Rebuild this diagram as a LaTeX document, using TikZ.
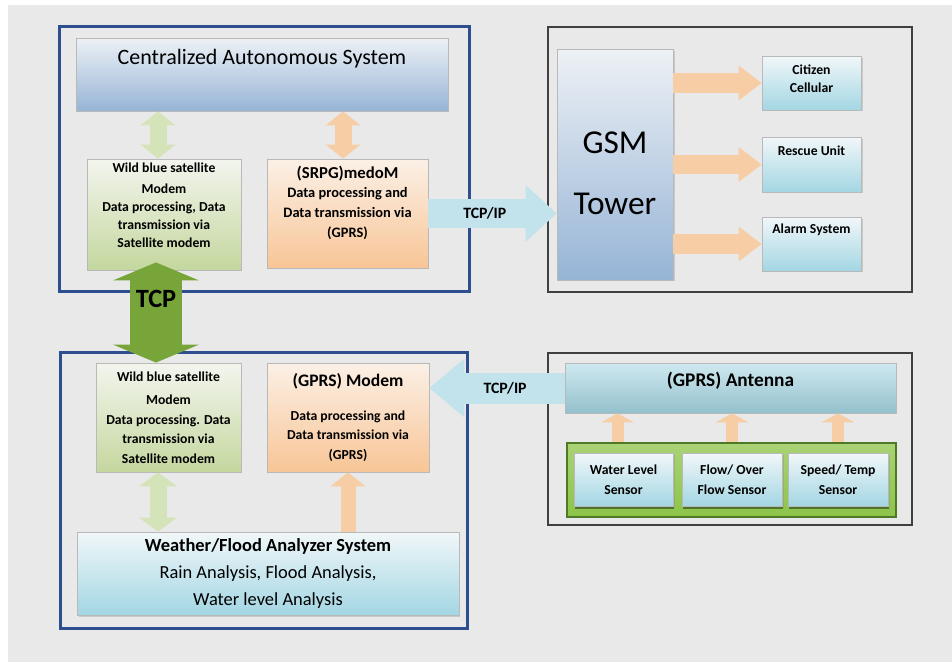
\documentclass[tikz,border=0pt]{standalone}
\usepackage{fontspec}
\setmainfont{Carlito}
\usepackage{xcolor}
\usetikzlibrary{arrows.meta,positioning,calc,shadows}

\definecolor{frameblue}{HTML}{2E4F8F}
\definecolor{bggray}{HTML}{E9E9E9}
\definecolor{skytop}{HTML}{EDF1F5}
\definecolor{skybot}{HTML}{96B4D6}
\definecolor{leaftop}{HTML}{F3F5EE}
\definecolor{leafbot}{HTML}{C4D79E}
\definecolor{peachtop}{HTML}{FBF0E6}
\definecolor{peachbot}{HTML}{F8C596}
\definecolor{aquatop}{HTML}{F1F7F9}
\definecolor{aquabot}{HTML}{A3D6E3}
\definecolor{tcpgreen}{HTML}{77A53A}
\definecolor{lightleaf}{HTML}{D5E3B8}
\definecolor{lightpeach}{HTML}{F6CDA4}
\definecolor{lightaqua}{HTML}{C3E3EC}
\definecolor{bargreen}{HTML}{8DC449}
\definecolor{baredge}{HTML}{4E7A26}

\begin{document}
\begin{tikzpicture}[
    x=0.02cm, y=-0.02cm,
    frame/.style={draw=frameblue, line width=1.7pt},
    panel/.style={draw=black!75, line width=0.8pt},
    block/.style={draw=gray!55, line width=0.5pt, align=center, inner sep=0pt,
      drop shadow={opacity=0.3, shadow xshift=0.03cm, shadow yshift=-0.03cm}},
    sky/.style={block, top color=skytop, bottom color=skybot},
    leaf/.style={block, top color=leaftop, bottom color=leafbot},
    peach/.style={block, top color=peachtop, bottom color=peachbot},
    aqua/.style={block, top color=aquatop, bottom color=aquabot},
    sensor/.style={aqua, drop shadow={opacity=0.7, fill=baredge!70!black, shadow xshift=0.02cm, shadow yshift=-0.05cm}},
    toptext/.style={anchor=north, inner sep=0pt, align=center},
    small/.style={font=\fontsize{7.8}{10.2}\selectfont\bfseries},
    onearr/.style n args={4}{line width=#1, draw=#4, -{Triangle[width=#2, length=#3, line width=0pt]}},
    twoarr/.style n args={4}{line width=#1, draw=#4, {Triangle[width=#2, length=#3, line width=0pt]}-{Triangle[width=#2, length=#3, line width=0pt]}}
  ]
    \useasboundingbox (0,0) rectangle (952,662);
    \fill[white] (0,0) rectangle (952,662);
    \fill[bggray] (8,5) rectangle (952,662);

    % outer frames
    \node[frame, minimum width=8.22cm, minimum height=5.32cm] (topsys) at (264.5,159) {};
    \node[frame, minimum width=8.16cm, minimum height=5.54cm] (botsys) at (264,490.5) {};
    \node[panel, minimum width=7.28cm, minimum height=5.3cm]  (gsmsys) at (730,159.5) {};
    \node[panel, minimum width=7.28cm, minimum height=3.44cm] (sensys) at (730,439) {};

    % central side
    \node[sky, minimum width=7.44cm, minimum height=1.46cm,
      label={[toptext, font=\fontsize{12.5}{14}\selectfont, yshift=-0.22cm]north:Centralized Autonomous System}] (cas) at (262,74.5) {};
    \node[leaf, minimum width=3.08cm, minimum height=2.22cm,
      label={[toptext, small, yshift=-0.08cm]north:Wild blue satellite\\[2pt]Modem\\Data processing, Data\\transmission via\\Satellite modem}] (sat1) at (164,214.5) {};
    \node[peach, minimum width=3.22cm, minimum height=2.18cm,
      label={[toptext, font=\fontsize{8.2}{11.2}\selectfont\bfseries, yshift=-0.14cm]north:{\fontsize{9.5}{11}\selectfont (SRPG)medoM}\\Data processing and\\Data transmission via\\(GPRS)}] (gprs1) at (347.5,213.5) {};

    % gsm side
    \node[sky, minimum width=2.32cm, minimum height=4.62cm,
      label={[toptext, font=\fontsize{19}{34.6}\selectfont, yshift=-1.66cm]north:GSM\\Tower}] (gsm) at (615,164.5) {};
    \node[aqua, minimum width=1.98cm, minimum height=1.08cm,
      label={[toptext, small, yshift=-0.18cm]north:Citizen\\Cellular}] (cell) at (811.5,83) {};
    \node[aqua, minimum width=1.98cm, minimum height=1.1cm,
      label={[toptext, small, yshift=-0.18cm]north:Rescue Unit}] (rescue) at (811.5,164.5) {};
    \node[aqua, minimum width=1.98cm, minimum height=1.08cm,
      label={[toptext, small, yshift=-0.14cm]north:Alarm System}] (alarm) at (811.5,244) {};

    % field side
    \node[leaf, minimum width=2.9cm, minimum height=2.18cm, small] (sat2) at (168.5,417.5)
      {Wild blue satellite\\[3pt]Modem\\[1pt]Data processing. Data\\[1pt]transmission via\\[1pt]Satellite modem};
    \node[peach, minimum width=3.24cm, minimum height=2.18cm, small] (gprs2) at (348,417.5)
      {{\fontsize{10}{12}\selectfont (GPRS) Modem}\\[9pt]Data processing and\\[1pt]Data transmission via\\[1pt](GPRS)};
    \node[aqua, minimum width=7.64cm, minimum height=1.66cm, font=\fontsize{10.5}{15.3}\selectfont] (wfa) at (268,573.5)
      {\textbf{Weather/Flood Analyzer System}\\Rain Analysis, Flood Analysis,\\Water level Analysis};

    % sensor side
    \node[block, top color=lightaqua!80!white, bottom color=aquabot!90!black, minimum width=6.62cm, minimum height=1cm,
      label={[toptext, font=\fontsize{11}{13}\selectfont\bfseries, yshift=-0.18cm]north:(GPRS) Antenna}] (ant) at (730.5,388) {};
    \node[draw=baredge, line width=1pt, top color=bargreen!75!white, bottom color=bargreen, minimum width=6.58cm, minimum height=1.48cm] (bar) at (731.5,480) {};
    \node[sensor, minimum width=1.98cm, minimum height=1.06cm, small] (wls) at (623.5,479.5) {Water Level\\[1pt]Sensor};
    \node[sensor, minimum width=2cm, minimum height=1.06cm, small] (fls) at (732,479.5) {Flow/ Over\\[1pt]Flow Sensor};
    \node[sensor, minimum width=2cm, minimum height=1.06cm, small] (sts) at (838,479.5) {Speed/ Temp\\[1pt]Sensor};

    % connectors
    \draw[twoarr={0.34cm}{0.7cm}{0.28cm}{lightleaf}] ([xshift=-0.12cm]sat1.north) -- ([xshift=-0.12cm]sat1.north |- cas.south);
    \draw[twoarr={0.34cm}{0.7cm}{0.28cm}{lightpeach}] ([xshift=-0.09cm]gprs1.north) -- ([xshift=-0.09cm]gprs1.north |- cas.south);
    \draw[onearr={0.6cm}{1.14cm}{0.62cm}{lightaqua}] (gprs1.east) -- (gprs1.east -| gsm.west)
      node[pos=0.44, font=\fontsize{9}{11}\selectfont\bfseries] (tcpa) {TCP/IP};
    \draw[onearr={0.4cm}{0.7cm}{0.46cm}{lightpeach}] (gsm.east |- cell.west) -- (cell.west);
    \draw[onearr={0.4cm}{0.7cm}{0.46cm}{lightpeach}] (gsm.east |- rescue.west) -- (rescue.west);
    \draw[onearr={0.4cm}{0.7cm}{0.46cm}{lightpeach}] (gsm.east |- alarm.west) -- (alarm.west);
    \draw[twoarr={1.04cm}{1.72cm}{0.36cm}{tcpgreen}] ([xshift=-0.16cm, yshift=0.16cm]sat1.south) -- ([xshift=-0.16cm]sat1.south |- sat2.north)
      node[pos=0.36, font=\fontsize{15}{17}\selectfont\bfseries] (tcp) {TCP};
    \draw[twoarr={0.34cm}{0.76cm}{0.28cm}{lightleaf}] ([xshift=-0.21cm]sat2.south) -- ([xshift=-0.21cm]sat2.south |- wfa.north);
    \draw[onearr={0.3cm}{0.7cm}{0.28cm}{lightpeach}] (gprs2.south |- wfa.north) -- (gprs2.south);
    \draw[onearr={0.62cm}{1.18cm}{0.7cm}{lightaqua}] (ant.west) -- (ant.west -| gprs2.east)
      node[pos=0.44, font=\fontsize{9}{11}\selectfont\bfseries] (tcpb) {TCP/IP};
    \draw[onearr={0.24cm}{0.66cm}{0.18cm}{lightpeach}] ([xshift=-0.12cm]wls.north |- bar.north) -- ([xshift=-0.12cm]wls.north |- ant.south);
    \draw[onearr={0.24cm}{0.66cm}{0.18cm}{lightpeach}] (fls.north |- bar.north) -- (fls.north |- ant.south);
    \draw[onearr={0.24cm}{0.66cm}{0.18cm}{lightpeach}] (sts.north |- bar.north) -- (sts.north |- ant.south);
  \end{tikzpicture}
\end{document}
